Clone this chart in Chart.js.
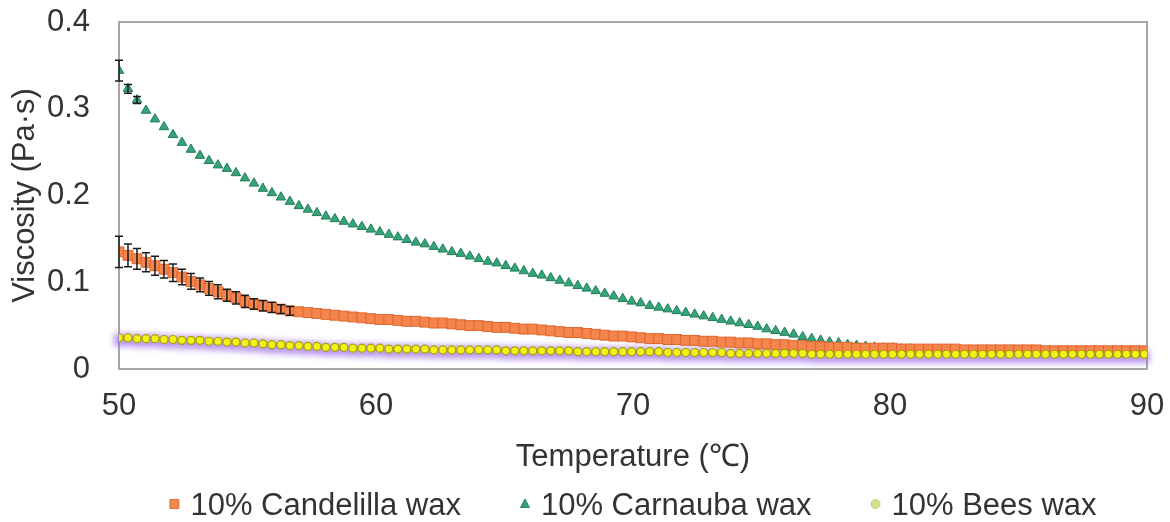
<!DOCTYPE html>
<html><head><meta charset="utf-8">
<script src="https://cdn.jsdelivr.net/npm/chart.js@4/dist/chart.umd.min.js"></script>
<style>html,body{margin:0;padding:0;background:#fff}#wrap{width:1170px;height:522px;position:relative}</style>
</head><body><div id="wrap"><canvas id="c" width="1170" height="522"></canvas></div>
<script>
const temperature = [
50, 50.35, 50.7, 51.05, 51.4, 51.75, 52.1, 52.45, 52.8, 53.15,
53.5, 53.85, 54.2, 54.55, 54.9, 55.25, 55.6, 55.95, 56.3, 56.65,
57, 57.35, 57.7, 58.05, 58.4, 58.75, 59.1, 59.45, 59.8, 60.15,
60.5, 60.85, 61.2, 61.55, 61.9, 62.25, 62.6, 62.95, 63.3, 63.65,
64, 64.35, 64.7, 65.05, 65.4, 65.75, 66.1, 66.45, 66.8, 67.15,
67.5, 67.85, 68.2, 68.55, 68.9, 69.25, 69.6, 69.95, 70.3, 70.65,
71, 71.35, 71.7, 72.05, 72.4, 72.75, 73.1, 73.45, 73.8, 74.15,
74.5, 74.85, 75.2, 75.55, 75.9, 76.25, 76.6, 76.95, 77.3, 77.65,
78, 78.35, 78.7, 79.05, 79.4, 79.75, 80.1, 80.45, 80.8, 81.15,
81.5, 81.85, 82.2, 82.55, 82.9, 83.25, 83.6, 83.95, 84.3, 84.65,
85, 85.35, 85.7, 86.05, 86.4, 86.75, 87.1, 87.45, 87.8, 88.15,
88.5, 88.85, 89.2, 89.55, 89.9];

const candelilla = [
0.135, 0.131, 0.127, 0.123, 0.119, 0.115, 0.111, 0.106, 0.101, 0.097,
0.093, 0.089, 0.085, 0.082, 0.078, 0.075, 0.073, 0.071, 0.069, 0.067,
0.066, 0.065, 0.064, 0.063, 0.062, 0.061, 0.060, 0.059, 0.058, 0.057,
0.057, 0.056, 0.055, 0.055, 0.054, 0.053, 0.053, 0.052, 0.051, 0.050,
0.050, 0.049, 0.048, 0.048, 0.047, 0.046, 0.046, 0.045, 0.044, 0.043,
0.042, 0.042, 0.041, 0.040, 0.039, 0.038, 0.038, 0.037, 0.036, 0.035,
0.035, 0.034, 0.034, 0.033, 0.033, 0.032, 0.032, 0.031, 0.031, 0.030,
0.030, 0.029, 0.029, 0.028, 0.028, 0.027, 0.027, 0.026, 0.026, 0.025,
0.025, 0.025, 0.024, 0.024, 0.024, 0.024, 0.024, 0.023, 0.023, 0.023,
0.023, 0.023, 0.023, 0.023, 0.022, 0.022, 0.022, 0.022, 0.022, 0.022,
0.022, 0.022, 0.022, 0.021, 0.021, 0.021, 0.021, 0.021, 0.021, 0.021,
0.021, 0.021, 0.021, 0.021, 0.021];

const carnauba = [
0.344, 0.323, 0.310, 0.298, 0.288, 0.279, 0.270, 0.261, 0.253, 0.246,
0.240, 0.235, 0.231, 0.226, 0.220, 0.214, 0.208, 0.203, 0.198, 0.193,
0.188, 0.184, 0.180, 0.176, 0.173, 0.170, 0.167, 0.164, 0.161, 0.158,
0.155, 0.152, 0.149, 0.146, 0.144, 0.141, 0.138, 0.135, 0.133, 0.130,
0.127, 0.124, 0.122, 0.119, 0.116, 0.113, 0.110, 0.108, 0.105, 0.102,
0.099, 0.096, 0.093, 0.090, 0.087, 0.084, 0.081, 0.078, 0.076, 0.073,
0.071, 0.069, 0.067, 0.065, 0.063, 0.061, 0.059, 0.057, 0.055, 0.053,
0.051, 0.049, 0.046, 0.044, 0.042, 0.040, 0.037, 0.035, 0.033, 0.031,
0.030, 0.028, 0.027, 0.026, 0.025, 0.024, 0.024, 0.023, 0.023, 0.022,
0.022, 0.022, 0.021, 0.021, 0.021, 0.021, 0.020, 0.020, 0.020, 0.020,
0.020, 0.020, 0.019, 0.019, 0.019, 0.019, 0.019, 0.019, 0.019, 0.019,
0.019, 0.018, 0.018, 0.018, 0.018];

const beeswax = [
0.036, 0.036, 0.035, 0.035, 0.035, 0.034, 0.034, 0.033, 0.033, 0.033,
0.032, 0.032, 0.031, 0.031, 0.030, 0.030, 0.029, 0.028, 0.028, 0.027,
0.027, 0.026, 0.026, 0.025, 0.025, 0.025, 0.024, 0.024, 0.024, 0.024,
0.023, 0.023, 0.023, 0.023, 0.023, 0.022, 0.022, 0.022, 0.022, 0.022,
0.022, 0.022, 0.022, 0.021, 0.021, 0.021, 0.021, 0.021, 0.021, 0.021,
0.021, 0.020, 0.020, 0.020, 0.020, 0.020, 0.020, 0.020, 0.020, 0.020,
0.020, 0.019, 0.019, 0.019, 0.019, 0.019, 0.019, 0.019, 0.018, 0.018,
0.018, 0.018, 0.018, 0.018, 0.018, 0.018, 0.018, 0.017, 0.017, 0.017,
0.017, 0.017, 0.017, 0.017, 0.017, 0.017, 0.017, 0.017, 0.017, 0.017,
0.017, 0.017, 0.017, 0.017, 0.017, 0.017, 0.017, 0.017, 0.017, 0.017,
0.017, 0.017, 0.017, 0.017, 0.017, 0.017, 0.017, 0.017, 0.017, 0.017,
0.017, 0.017, 0.017, 0.017, 0.017];

// standard deviations (error bars); points beyond the list have bars hidden under markers
const candelillaErr = [
0.018, 0.013, 0.012, 0.011, 0.011, 0.010, 0.010, 0.009, 0.009, 0.008,
0.008, 0.008, 0.007, 0.007, 0.007, 0.006, 0.006, 0.006, 0.005, 0.005];
const carnaubaErr = [0.012, 0.005, 0.004];
const beesErrUp = [
0.005, 0.005, 0.005, 0.005, 0.005, 0.005, 0.005, 0.005, 0.005, 0.005,
0.005, 0.005, 0.005, 0.005, 0.005, 0.005, 0.005, 0.005, 0.005, 0.005,
0.005, 0.005, 0.005, 0.005, 0.005, 0.005, 0.005, 0.005, 0.005, 0.005,
0.005, 0.005, 0.005, 0.005, 0.005, 0.005, 0.005, 0.005, 0.005, 0.005,
0.005, 0.005, 0.005, 0.005, 0.005, 0.005, 0.005, 0.005, 0.005, 0.005,
0.005, 0.005, 0.005, 0.005, 0.005, 0.005, 0.005, 0.005, 0.005, 0.005,
0.005, 0.005, 0.005, 0.005, 0.005, 0.005, 0.005, 0.005, 0.005, 0.005,
0.005, 0.005, 0.005, 0.005, 0.005, 0.005, 0.005, 0.005, 0.005, 0.005,
0.005, 0.005, 0.005, 0.005, 0.005, 0.005, 0.005, 0.005, 0.005, 0.005,
0.005, 0.005, 0.005, 0.005, 0.005, 0.005, 0.005, 0.005, 0.005, 0.005,
0.005, 0.005, 0.005, 0.005, 0.005, 0.005, 0.005, 0.005, 0.005, 0.005,
0.005, 0.005, 0.005, 0.005, 0.005];
const beesErrDown = [
0.010, 0.010, 0.010, 0.010, 0.010, 0.010, 0.010, 0.010, 0.010, 0.010,
0.010, 0.010, 0.010, 0.010, 0.010, 0.010, 0.010, 0.010, 0.010, 0.010,
0.010, 0.010, 0.010, 0.010, 0.010, 0.010, 0.010, 0.010, 0.010, 0.010,
0.010, 0.010, 0.010, 0.010, 0.010, 0.010, 0.010, 0.010, 0.010, 0.010,
0.010, 0.010, 0.010, 0.010, 0.010, 0.010, 0.010, 0.010, 0.010, 0.010,
0.010, 0.010, 0.010, 0.010, 0.010, 0.010, 0.010, 0.010, 0.010, 0.010,
0.010, 0.010, 0.010, 0.010, 0.010, 0.010, 0.010, 0.010, 0.010, 0.010,
0.010, 0.010, 0.010, 0.010, 0.010, 0.010, 0.010, 0.010, 0.010, 0.010,
0.010, 0.010, 0.010, 0.010, 0.010, 0.010, 0.010, 0.010, 0.010, 0.010,
0.010, 0.010, 0.010, 0.010, 0.010, 0.010, 0.010, 0.010, 0.010, 0.010,
0.010, 0.010, 0.010, 0.010, 0.010, 0.010, 0.010, 0.010, 0.010, 0.010,
0.010, 0.010, 0.010, 0.010, 0.010];

const xTicks = [50, 60, 70, 80, 90];
const yTicks = [0, 0.1, 0.2, 0.3, 0.4];
const seriesNames = ['10% Candelilla wax', '10% Carnauba wax', '10% Bees wax'];
const xTitle = 'Temperature (\u2103)';
const yTitle = 'Viscosity (Pa\u00b7s)';

const FONT = '"Liberation Sans", Arial, sans-serif';
const TXT = '#333333';

function pts(vals) { return vals.map((v, i) => ({x: temperature[i], y: v})); }

const frame = {
  id: 'frame',
  beforeDatasetsDraw(chart) {
    const {ctx, chartArea: a} = chart;
    ctx.save();
    ctx.strokeStyle = '#a6a6a6';
    ctx.lineWidth = 2;
    ctx.strokeRect(a.left, a.top, a.right - a.left, a.bottom - a.top);
    // bees wax error band (purple)
    const xs = chart.scales.x, ys = chart.scales.y;
    ctx.filter = 'blur(3px)';
    ctx.fillStyle = 'rgba(160,115,235,0.75)';
    ctx.beginPath();
    const n = beeswax.length;
    beeswax.forEach((v, i) => {
      const x = xs.getPixelForValue(temperature[i]);
      const y = ys.getPixelForValue(v + beesErrUp[i]);
      if (i === 0) { ctx.moveTo(x - 5, ys.getPixelForValue(v - beesErrDown[i])); ctx.lineTo(x - 5, y); }
      ctx.lineTo(x, y);
      if (i === n - 1) ctx.lineTo(x + 5, y);
    });
    for (let i = n - 1; i >= 0; i--) {
      const x = xs.getPixelForValue(temperature[i]);
      const y = ys.getPixelForValue(beeswax[i] - beesErrDown[i]);
      if (i === n - 1) ctx.lineTo(x + 5, y);
      ctx.lineTo(x, y);
    }
    ctx.closePath();
    ctx.fill();
    ctx.filter = 'none';
    ctx.restore();
  }
};

const errorBars = {
  id: 'errorBars',
  afterDatasetsDraw(chart) {
    const {ctx} = chart;
    const xs = chart.scales.x, ys = chart.scales.y;
    ctx.save();
    ctx.strokeStyle = '#1b1b1b';
    ctx.lineWidth = 1.5;
    [[carnauba, carnaubaErr], [candelilla, candelillaErr]].forEach(([vals, errs]) => {
      errs.forEach((e, i) => {
        const x = xs.getPixelForValue(temperature[i]);
        const y1 = ys.getPixelForValue(vals[i] + e);
        const y2 = ys.getPixelForValue(vals[i] - e);
        ctx.beginPath();
        ctx.moveTo(x, y1); ctx.lineTo(x, y2);
        ctx.moveTo(x - 4, y1); ctx.lineTo(x + 4, y1);
        ctx.moveTo(x - 4, y2); ctx.lineTo(x + 4, y2);
        ctx.stroke();
      });
    });
    ctx.restore();
  }
};

const legendMarks = [
  {shape: 'rect', fill: '#f0874f', stroke: '#e07040'},
  {shape: 'triangle', fill: '#3a9f78', stroke: '#2a8a62'},
  {shape: 'circle', fill: '#d2e08e', stroke: '#bfcf78'}
];
const customLegend = {
  id: 'customLegend',
  afterDraw(chart) {
    const {ctx, chartArea: a} = chart;
    ctx.save();
    ctx.font = '31px ' + FONT;
    const widths = seriesNames.map(s => ctx.measureText(s).width);
    const m2t = 16, gap = 64, half = 5;
    let total = half;
    widths.forEach((w, i) => { total += m2t + w + (i < widths.length - 1 ? gap : 0); });
    let x = (a.left + a.right) / 2 - total / 2 + half;
    const yc = 504, base = 515;
    seriesNames.forEach((s, i) => {
      const mk = legendMarks[i];
      ctx.fillStyle = mk.fill; ctx.strokeStyle = mk.stroke; ctx.lineWidth = 1;
      ctx.beginPath();
      if (mk.shape === 'rect') ctx.rect(x - 4.5, yc - 4.5, 9, 9);
      else if (mk.shape === 'triangle') { ctx.moveTo(x, yc - 5); ctx.lineTo(x + 4.5, yc + 3.5); ctx.lineTo(x - 4.5, yc + 3.5); ctx.closePath(); }
      else ctx.arc(x, yc, 4.5, 0, Math.PI * 2);
      ctx.fill(); ctx.stroke();
      ctx.fillStyle = TXT; ctx.textBaseline = 'alphabetic'; ctx.textAlign = 'left';
      ctx.fillText(s, x + m2t, base);
      x += m2t + widths[i] + gap;
    });
    ctx.restore();
  }
};

new Chart(document.getElementById('c'), {
  type: 'scatter',
  data: {
    datasets: [
      {label: seriesNames[0], data: pts(candelilla), pointStyle: 'rect', pointRadius: 7,
       backgroundColor: '#f4854c', borderColor: '#e0652c', borderWidth: 1, order: 1},
      {label: seriesNames[1], data: pts(carnauba), pointStyle: 'triangle', pointRadius: 5.5,
       backgroundColor: '#37a378', borderColor: '#1f7d57', borderWidth: 1, order: 2},
      {label: seriesNames[2], data: pts(beeswax), pointStyle: 'circle', pointRadius: 4,
       backgroundColor: '#f2f21a', borderColor: '#a89e08', borderWidth: 1.2, order: 0}
    ]
  },
  options: {
    responsive: false, animation: false, devicePixelRatio: 1,
    layout: {padding: {left: 0, right: 23, top: 22, bottom: 46}},
    plugins: {legend: {display: false}, tooltip: {enabled: false}},
    scales: {
      x: {
        type: 'linear', min: 50, max: 90,
        grid: {display: false, drawTicks: true, tickLength: 19}, border: {display: false},
        afterBuildTicks: s => { s.ticks = xTicks.map(v => ({value: v})); },
        afterFit: s => { s.height = 107; },
        ticks: {padding: 0, color: TXT, font: {family: FONT, size: 31}},
        title: {display: true, text: xTitle, color: TXT, font: {family: FONT, size: 31}, padding: {top: 0, bottom: 0}}
      },
      y: {
        type: 'linear', min: 0, max: 0.4,
        grid: {display: false, drawTicks: true, tickLength: 29}, border: {display: false},
        afterBuildTicks: s => { s.ticks = yTicks.map(v => ({value: v})); },
        afterFit: s => { s.width = 119; },
        ticks: {padding: 0, color: TXT, font: {family: FONT, size: 31}},
        title: {display: true, text: yTitle, color: TXT, font: {family: FONT, size: 31}, padding: {top: 7, bottom: 0}}
      }
    }
  },
  plugins: [frame, errorBars, customLegend]
});
</script>
</body></html>
